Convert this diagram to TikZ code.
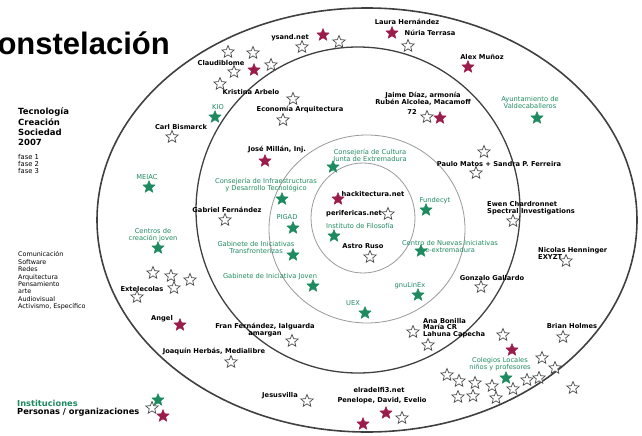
\documentclass[tikz,border=0pt]{standalone}
\usepackage{fontspec}
\setmainfont{DejaVu Sans}
\newfontfamily\titlefont{Liberation Sans}
\usetikzlibrary{shapes.geometric}
\definecolor{persred}{HTML}{9B1B4B}
\definecolor{instgreen}{HTML}{1E8A60}
\tikzset{
  ringout/.style={draw=black!75, line width=1.6pt},
  ringin/.style={draw=black!40, line width=0.8pt},
  lbl/.style={inner sep=0pt, align=center, font=\fontsize{6.7}{7}\selectfont\bfseries},
  ilbl/.style={lbl, text=instgreen, font=\fontsize{6.7}{7}\selectfont},
  leftlbl/.style={lbl, anchor=west, align=left},
  anystar/.style={shape=star, star points=5, star point ratio=2.25, minimum size=13pt, inner sep=0pt},
  redst/.style={anystar, draw=persred, fill=persred, line width=0.4pt},
  grnst/.style={anystar, draw=instgreen, fill=instgreen, line width=0.4pt},
  wst/.style={anystar, draw=black!70, fill=white, line width=0.7pt},
}

\begin{document}
\begin{tikzpicture}[x=1pt,y=-1pt]
\useasboundingbox (0,0) rectangle (642,436);
\clip (0,0) rectangle (642,436);

\draw[ringout] (367,220) ellipse [x radius=270pt, y radius=212pt];
\draw[ringout, line width=1.3pt] (358,210) ellipse [x radius=162pt, y radius=163pt];
\draw[ringin] (367,229) ellipse [x radius=98pt, y radius=94pt];
\draw[ringin] (363,218) ellipse [x radius=52pt, y radius=55pt];

\node[anchor=base east, inner sep=0pt, font=\titlefont\fontsize{31}{31}\selectfont\bfseries] (title) at (170,55) {Constelación};

% leyenda
\node[leftlbl, font=\fontsize{8.5}{10.3}\selectfont\bfseries] (tcs) at (18,127) {Tecnología\\Creación\\Sociedad\\2007};
\node[leftlbl, font=\fontsize{6.8}{7}\selectfont] (fases) at (18,164) {fase 1\\fase 2\\fase 3};
\node[leftlbl, font=\fontsize{6.4}{7.4}\selectfont] (areas) at (18,281) {Comunicación\\Software\\Redes\\Arquitectura\\Pensamiento\\arte\\Audiovisual\\Activismo, Específico};
\node[leftlbl, text=instgreen, font=\fontsize{8.3}{9}\selectfont\bfseries] (leginst) at (17,403) {Instituciones};
\node[leftlbl, font=\fontsize{8.3}{9}\selectfont\bfseries] (legpers) at (17,412) {Personas / organizaciones};
\node[grnst] (leggs) at (158,400) {};
\node[wst] (legws) at (152,408) {};
\node[redst] (legrs) at (163,416) {};

% personas / organizaciones
\node[lbl] (laura) at (407,22) {Laura Hernández};
\node[lbl] (nuria) at (430,33) {Núria Terrasa};
\node[lbl] (ysand) at (290,38) {ysand.net};
\node[lbl] (claudi) at (221,63) {Claudiblome};
\node[lbl] (kristina) at (251,92) {Kristina Arbelo};
\node[lbl] (carl) at (181,127) {Carl Bismarck};
\node[lbl] (econ) at (300,110) {Economía Arquitectura};
\node[lbl] (alex) at (482,57) {Alex Muñoz};
\node[lbl] (jaime) at (423,99) {Jaime Díaz, armonía\\Rubén Alcolea, Macamoff};
\node[lbl] (seventy) at (412,112) {72};
\node[lbl] (jose) at (277,150) {José Millán, Inj.};
\node[lbl] (paulo) at (499,164) {Paulo Matos + Sandra P. Ferreira};
\node[leftlbl] (ewen) at (487,208.5) {Ewen Chardronnet\\Spectral Investigations};
\node[lbl] (gabriel) at (227,210) {Gabriel Fernández};
\node[lbl] (hack) at (373,194) {hackitectura.net};
\node[lbl] (perif) at (354,214) {perifericas.net};
\node[lbl] (astro) at (363,246) {Astro Ruso};
\node[lbl] (gonzalo) at (492,278) {Gonzalo Gallardo};
\node[leftlbl] (nicolas) at (538,253.5) {Nicolas Henninger\\EXYZT};
\node[leftlbl, font=\fontsize{6.7}{6.3}\selectfont\bfseries] (ana) at (423,328) {Ana Bonilla\\María CR\\Lahuna Capecha};
\node[lbl] (brian) at (572,326) {Brian Holmes};
\node[lbl] (extel) at (142,289) {Extelecolas};
\node[lbl] (angel) at (162,319) {Angel};
\node[lbl] (fran) at (265,330.5) {Fran Fernández, Ialguarda\\amargan};
\node[lbl] (joaquin) at (214,352) {Joaquín Herbás, Medialibre};
\node[lbl] (jesus) at (280,396) {Jesusvilla};
\node[lbl] (elrad) at (379,390) {elradelfi3.net};
\node[lbl] (penelope) at (382,401) {Penelope, David, Evelio};

% instituciones
\node[ilbl] (kio) at (218,107) {KIO};
\node[ilbl] (ayto) at (530,102.5) {Ayuntamiento de\\Valdecaballeros};
\node[ilbl] (cultura) at (370,155.5) {Consejería de Cultura\\Junta de Extremadura};
\node[ilbl] (infra) at (266,185.5) {Consejería de Infraestructuras\\y Desarrollo Tecnológico};
\node[ilbl] (meiac) at (147,177) {MEIAC};
\node[ilbl] (fundecyt) at (435,201) {Fundecyt};
\node[ilbl] (pigad) at (287,217) {PIGAD};
\node[ilbl] (filos) at (360,226) {Instituto de Filosofía};
\node[ilbl] (gabtrans) at (256,247.5) {Gabinete de Iniciativas\\Transfronterizas};
\node[ilbl] (nuevas) at (450,246) {Centro de Nuevas Iniciativas\\e-extremadura};
\node[ilbl] (joven) at (270,277) {Gabinete de Iniciativa Joven};
\node[ilbl] (centros) at (153,235) {Centros de\\creación joven};
\node[ilbl] (gnu) at (410,286) {gnuLinEx};
\node[ilbl] (uex) at (353,303) {UEX};
\node[ilbl] (colegios) at (500,364.5) {Colegios Locales\\niños y profesores};

% estrellas rojas
\node[redst] (rlaura) at (392,33) {};
\node[redst] (rysand) at (323,35) {};
\node[redst] (rclaudi) at (254,70) {};
\node[redst] (ralex) at (468,67) {};
\node[redst] (rjaime) at (440,118) {};
\node[redst] (rjose) at (265,161) {};
\node[redst] (rhack) at (338,199) {};
\node[redst] (rangel) at (180,325) {};
\node[redst] (rcoleg) at (512,350) {};
\node[redst] (rpen1) at (386,413) {};
\node[redst] (rpen2) at (363,424) {};

% estrellas verdes
\node[grnst] (gkio) at (215,117) {};
\node[grnst] (gayto) at (537,118) {};
\node[grnst] (gcultura) at (333,167) {};
\node[grnst] (ginfra) at (282,199) {};
\node[grnst] (gmeiac) at (149,187) {};
\node[grnst] (gfundecyt) at (426,210) {};
\node[grnst] (gpigad) at (293,228) {};
\node[grnst] (gfilos) at (334,236) {};
\node[grnst] (ggabtrans) at (293,255) {};
\node[grnst] (gnuevas) at (421,251) {};
\node[grnst] (gjoven) at (313,286) {};
\node[grnst] (gcentros) at (158,248) {};
\node[grnst] (ggnu) at (418,295) {};
\node[grnst] (guex) at (365,313) {};
\node[grnst] (gcoleg) at (506,378) {};

% estrellas blancas
\node[wst] (wnuria) at (408,46) {};
\node[wst] (wysand1) at (339,42) {};
\node[wst] (wysand2) at (302,47) {};
\node[wst] (wclaudi1) at (228,52) {};
\node[wst] (wclaudi2) at (253,53) {};
\node[wst] (wclaudi3) at (234,72) {};
\node[wst] (wclaudi4) at (271,65) {};
\node[wst] (wkristina) at (220,84) {};
\node[wst] (wcarl) at (172,137) {};
\node[wst] (wecon1) at (293,99) {};
\node[wst] (wecon2) at (283,120) {};
\node[wst] (wjaime) at (427,117) {};
\node[wst] (wpaulo1) at (484,152) {};
\node[wst] (wpaulo2) at (476,173) {};
\node[wst] (wewen) at (513,221) {};
\node[wst] (wgabriel) at (225,220) {};
\node[wst] (wperif) at (388,214) {};
\node[wst] (wastro) at (370,257) {};
\node[wst] (wextel1) at (153,273) {};
\node[wst] (wextel2) at (171,276) {};
\node[wst] (wextel3) at (190,280) {};
\node[wst] (wextel4) at (174,288) {};
\node[wst] (wextel5) at (137,297) {};
\node[wst] (wgonzalo) at (481,287) {};
\node[wst] (wnicolas) at (566,261) {};
\node[wst] (wana1) at (413,332) {};
\node[wst] (wana2) at (428,345) {};
\node[wst] (wbrian) at (563,337) {};
\node[wst] (wcoleg1) at (503,335) {};
\node[wst] (wcoleg2) at (447,375) {};
\node[wst] (wcoleg3) at (459,381) {};
\node[wst] (wcoleg4) at (475,383) {};
\node[wst] (wcoleg5) at (492,386) {};
\node[wst] (wcoleg6) at (513,389) {};
\node[wst] (wcoleg7) at (527,380) {};
\node[wst] (wcoleg8) at (539,378) {};
\node[wst] (wcoleg9) at (542,358) {};
\node[wst] (wcoleg10) at (555,368) {};
\node[wst] (wcoleg11) at (573,388) {};
\node[wst] (wcoleg12) at (458,397) {};
\node[wst] (wcoleg13) at (473,396) {};
\node[wst] (wcoleg14) at (496,398) {};
\node[wst] (wfran) at (292,341) {};
\node[wst] (wjoaquin) at (231,362) {};
\node[wst] (wjesus) at (307,401) {};
\node[wst] (wpen) at (402,418) {};
\end{tikzpicture}
\end{document}
